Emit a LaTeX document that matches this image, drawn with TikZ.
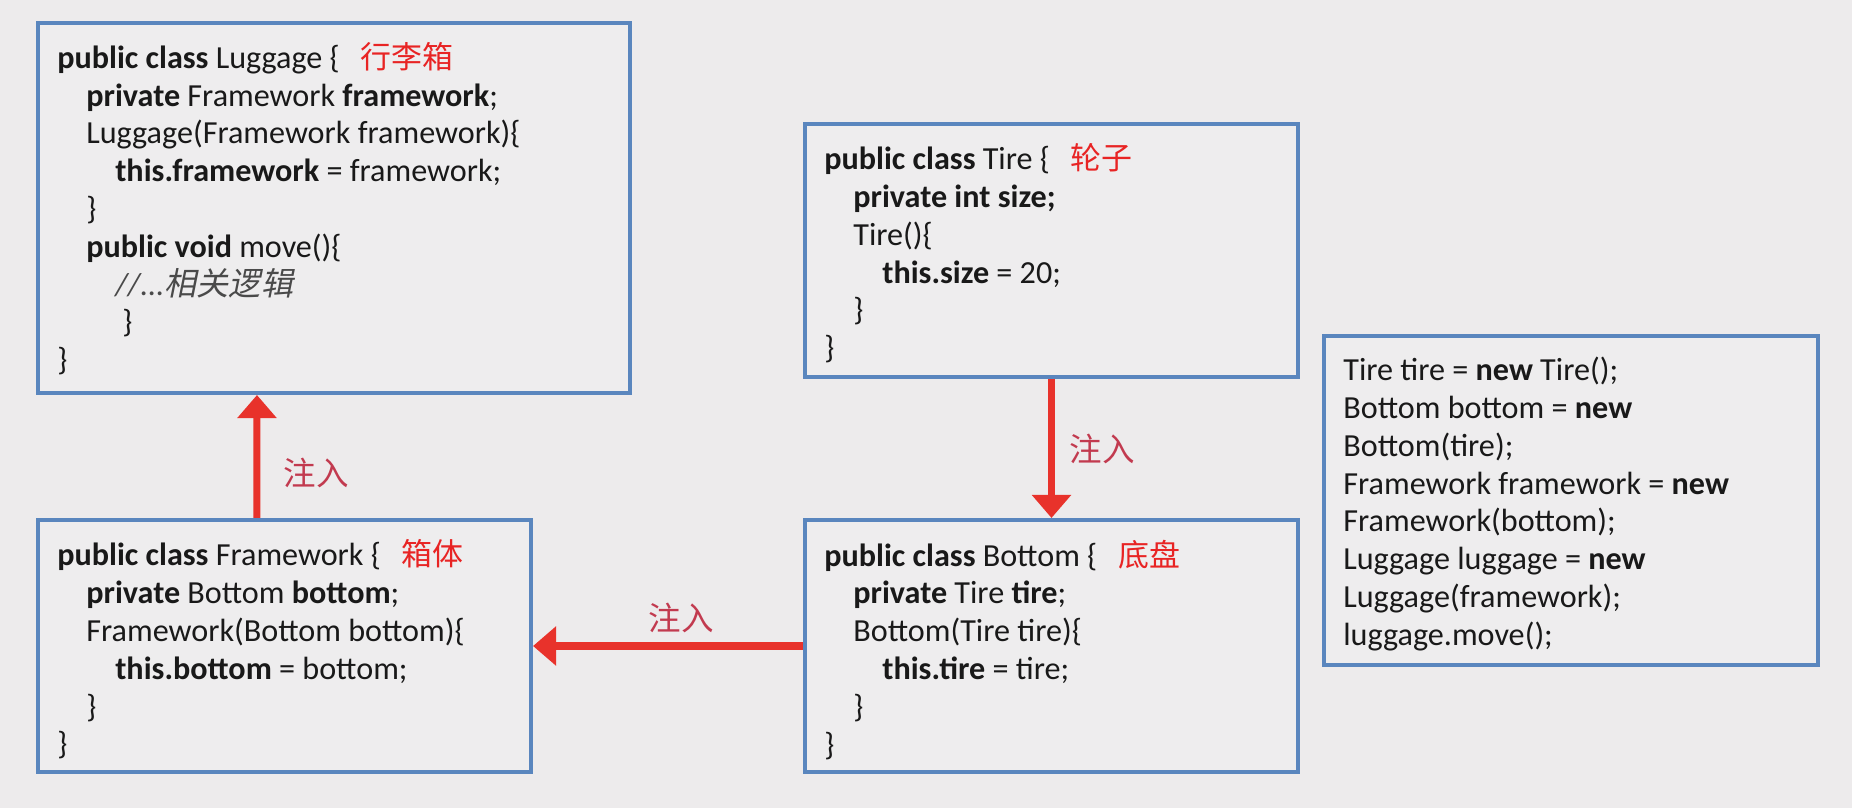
\documentclass[tikz,border=0pt]{standalone}
\usepackage{fontspec}
\setmainfont{Carlito}
\newfontfamily\cjk{Noto Sans CJK SC}
\newfontfamily\cjkslant{Noto Sans CJK SC}[FakeSlant=0.2]
\usetikzlibrary{arrows.meta}
\definecolor{pagecolor}{HTML}{EDEBEC}
\definecolor{boxcolor}{HTML}{5A86BE}
\definecolor{boxfill}{HTML}{EEEDEE}
\definecolor{injectcolor}{HTML}{E8322B}
\definecolor{labelcolor}{HTML}{C23A4F}
\definecolor{titlecolor}{HTML}{E82424}
\definecolor{commentcolor}{HTML}{4A4A4A}
\newcommand{\ind}{\hspace*{5.8mm}}
\newcommand{\cname}[1]{\hspace{.65em}{\cjk\color{titlecolor}\fontsize{17.6}{20}\selectfont #1}}
\tikzset{classbox/.style={draw=boxcolor,fill=boxfill,line width=2.3pt,inner sep=0pt},code/.style={anchor=north west,inner sep=0pt,align=left,text=black!90,font=\fontsize{18.3}{21.5}\selectfont},inject/.style={-{Triangle[length=4.6mm,width=7.6mm]},draw=injectcolor,line width=4pt},inject label/.style={text=labelcolor,font=\cjk\fontsize{18.5}{22}\selectfont,inner sep=1pt}}

\begin{document}
\begin{tikzpicture}
 \fill[pagecolor] (0,0) rectangle (37.04,16.16);
 \useasboundingbox (0,0) rectangle (37.04,16.16);

 % class boxes
 \node[classbox,minimum width=11.84cm,minimum height=7.4cm] (luggage) at (6.68,12) {};
 \node[classbox,minimum width=9.86cm,minimum height=5.04cm] (framework) at (5.69,3.24) {};
 \node[classbox,minimum width=9.86cm,minimum height=5.06cm] (tire) at (21.03,11.15) {};
 \node[classbox,minimum width=9.86cm,minimum height=5.04cm] (bottom) at (21.03,3.24) {};
 \node[classbox,minimum width=9.88cm,minimum height=6.58cm] (main) at (31.42,6.15) {};

 % code in the boxes
 \node[code] (luggage-code) at ([shift={(.42,-.42)}]luggage.north west) {\textbf{public class} Luggage \{\cname{行李箱}\\
 \ind\textbf{private} Framework \textbf{framework};\\
 \ind Luggage(Framework framework)\{\\
 \ind\ind\textbf{this.framework} = framework;\\
 \ind\}\\
 \ind\textbf{public void} move()\{\\
 \ind\ind{\color{commentcolor}\itshape //...{\cjkslant 相关逻辑}}\\
 \ind\ind\hspace*{1.4mm}\}\\
 \}};
 \node[code] (framework-code) at ([shift={(.42,-.43)}]framework.north west) {\textbf{public class} Framework \{\cname{箱体}\\
 \ind\textbf{private} Bottom \textbf{bottom};\\
 \ind Framework(Bottom bottom)\{\\
 \ind\ind\textbf{this.bottom} = bottom;\\
 \ind\}\\
 \}};
 \node[code] (tire-code) at ([shift={(.42,-.43)}]tire.north west) {\textbf{public class} Tire \{\cname{轮子}\\
 \ind\textbf{private int size;}\\
 \ind Tire()\{\\
 \ind\ind\textbf{this.size} = 20;\\
 \ind\}\\
 \}};
 \node[code] (bottom-code) at ([shift={(.42,-.43)}]bottom.north west) {\textbf{public class} Bottom \{\cname{底盘}\\
 \ind\textbf{private} Tire \textbf{tire};\\
 \ind Bottom(Tire tire)\{\\
 \ind\ind\textbf{this.tire} = tire;\\
 \ind\}\\
 \}};
 \node[code] (main-code) at ([shift={(.42,-.46)}]main.north west) {Tire tire = \textbf{new} Tire();\\
 Bottom bottom = \textbf{new}\\
 Bottom(tire);\\
 Framework framework = \textbf{new}\\
 Framework(bottom);\\
 Luggage luggage = \textbf{new}\\
 Luggage(framework);\\
 luggage.move();};

 % injection arrows
 \draw[inject] ([xshift=4.42cm]framework.north west) -- ([xshift=4.42cm]luggage.south west);
 \foreach \src/\dst in {tire.south/bottom.north,bottom.west/framework.east} {\draw[inject] (\src)--(\dst);}
 \node[inject label] (inject-up) at (6.32,6.7) {注入};
 \node[inject label] (inject-down) at (22.04,7.18) {注入};
 \node[inject label] (inject-left) at (13.62,3.8) {注入};
\end{tikzpicture}
\end{document}
